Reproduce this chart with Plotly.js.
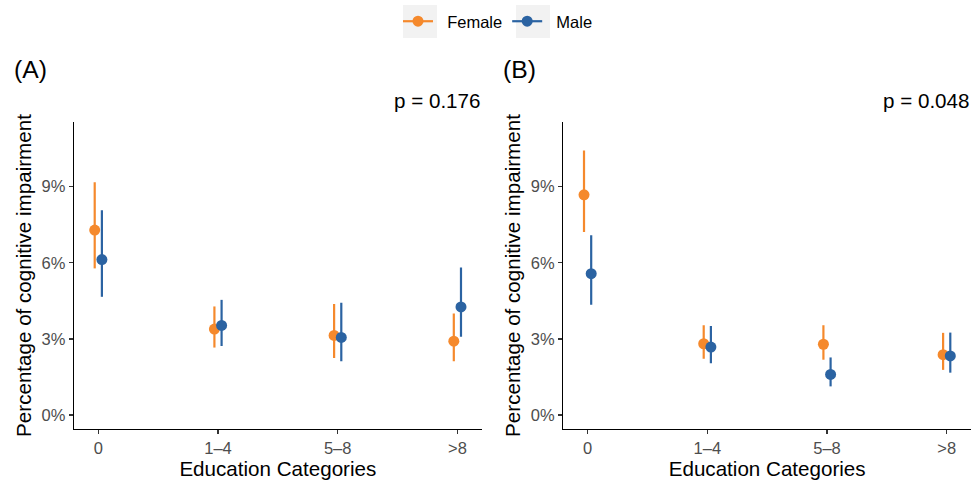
<!DOCTYPE html>
<html>
<head>
<meta charset="utf-8">
<script src="https://cdn.plot.ly/plotly-3.0.1.min.js"></script>
<style>html,body{margin:0;padding:0;background:#fff;}#chart{width:973px;height:485px;}</style>
</head>
<body>
<div id="chart"></div>
<script>
// ---- data ----
var categories = ["0", "1\u20134", "5\u20138", ">8"];
// Panel A
var femaleA = [7.29, 3.39, 3.14, 2.91];
var femaleA_lo = [5.78, 2.66, 2.25, 2.12];
var femaleA_hi = [9.18, 4.28, 4.38, 4.00];
var maleA = [6.13, 3.53, 3.06, 4.26];
var maleA_lo = [4.66, 2.72, 2.12, 3.09];
var maleA_hi = [8.07, 4.54, 4.43, 5.82];
// Panel B
var femaleB = [8.68, 2.81, 2.79, 2.38];
var femaleB_lo = [7.21, 2.22, 2.18, 1.78];
var femaleB_hi = [10.43, 3.54, 3.54, 3.24];
var maleB = [5.57, 2.68, 1.60, 2.33];
var maleB_lo = [4.35, 2.04, 1.13, 1.67];
var maleB_hi = [7.09, 3.51, 2.27, 3.25];
var yTicks = [0, 3, 6, 9];
var yTickLabels = ["0%", "3%", "6%", "9%"];
var panelTags = ["(A)", "(B)"];
var pLabels = ["p = 0.176", "p = 0.048"];
var seriesNames = ["Female", "Male"];

// ---- style ----
var COL_F = "#F5892C", COL_M = "#2B63A2";
var FONT = "Liberation Sans, Arial, Helvetica, sans-serif";
var W = 973, H = 485, ML = 74, MR = 2, MT = 122, MB = 56;
var PW = W - ML - MR, PH = H - MT - MB;
function px2x(p) { return (p - ML) / PW; }
function px2y(p) { return (H - MB - p) / PH; }
var DODGE = 0.03;

function pos(off) { return categories.map(function (c, i) { return i + 1 + off; }); }
function diff(a, b) { return a.map(function (v, i) { return v - b[i]; }); }

function mk(vals, lo, hi, color, off, xa, ya) {
  return {
    type: "scatter", mode: "markers",
    x: pos(off), y: vals, xaxis: xa, yaxis: ya,
    marker: { color: color, size: 11, line: { width: 0 } },
    error_y: { type: "data", symmetric: false, array: diff(hi, vals), arrayminus: diff(vals, lo),
               color: color, thickness: 2.2, width: 0 },
    showlegend: false, hoverinfo: "x+y"
  };
}

var traces = [
  mk(femaleA, femaleA_lo, femaleA_hi, COL_F, -DODGE, "x", "y"),
  mk(maleA, maleA_lo, maleA_hi, COL_M, DODGE, "x", "y"),
  mk(femaleB, femaleB_lo, femaleB_hi, COL_F, -DODGE, "x2", "y2"),
  mk(maleB, maleB_lo, maleB_hi, COL_M, DODGE, "x2", "y2"),
  { type: "scatter", mode: "lines+markers", x: [null], y: [null], name: "\u00A0\u00A0" + seriesNames[0],
    line: { color: COL_F, width: 2.2 }, marker: { color: COL_F, size: 11 }, showlegend: true },
  { type: "scatter", mode: "lines+markers", x: [null], y: [null], name: "\u00A0\u00A0" + seriesNames[1],
    line: { color: COL_M, width: 2.2 }, marker: { color: COL_M, size: 11 }, showlegend: true }
];

function xAxis(domain, anchor) {
  return {
    domain: domain, anchor: anchor, range: [0.797, 4.203], tickmode: "array",
    tickvals: pos(0), ticktext: categories, showgrid: false, zeroline: false,
    showline: true, linecolor: "#000", linewidth: 1.3, ticks: "outside", ticklen: 4,
    tickwidth: 1.2, tickcolor: "#333", tickfont: { family: FONT, size: 16.5, color: "#4D4D4D" },
    title: { text: "Education Categories", font: { family: FONT, size: 20.6, color: "#000" }, standoff: 3 },
    automargin: false, fixedrange: true
  };
}
function yAxis(anchor) {
  return {
    anchor: anchor, domain: [0, 1], range: [-0.55, 11.55], tickmode: "array", tickvals: yTicks,
    ticktext: yTickLabels, showgrid: false, zeroline: false, showline: true, linecolor: "#000",
    linewidth: 1.3, ticks: "outside", ticklen: 4, tickwidth: 1.2, tickcolor: "#333",
    tickfont: { family: FONT, size: 16.5, color: "#4D4D4D" },
    title: { text: "Percentage of cognitive impairment", font: { family: FONT, size: 20.6, color: "#000" }, standoff: 4 },
    automargin: false, fixedrange: true
  };
}

var xL = [0, px2x(481.7)], xR = [px2x(563.3), 1];

var annotations = [
  { xref: "paper", yref: "paper", x: px2x(12), y: px2y(70), xanchor: "left", yanchor: "middle",
    text: panelTags[0], showarrow: false, font: { family: FONT, size: 24.7, color: "#000" } },
  { xref: "paper", yref: "paper", x: px2x(501), y: px2y(70), xanchor: "left", yanchor: "middle",
    text: panelTags[1], showarrow: false, font: { family: FONT, size: 24.7, color: "#000" } },
  { xref: "paper", yref: "paper", x: xL[1], y: px2y(101), xanchor: "right", yanchor: "middle",
    text: pLabels[0], showarrow: false, font: { family: FONT, size: 20.6, color: "#000" } },
  { xref: "paper", yref: "paper", x: xR[1], y: px2y(101), xanchor: "right", yanchor: "middle",
    text: pLabels[1], showarrow: false, font: { family: FONT, size: 20.6, color: "#000" } }
];

var shapes = [
  { type: "rect", xref: "paper", yref: "paper", x0: px2x(403), x1: px2x(437), y0: px2y(38), y1: px2y(5),
    fillcolor: "#F2F2F2", line: { width: 0 }, layer: "below" },
  { type: "rect", xref: "paper", yref: "paper", x0: px2x(516), x1: px2x(550), y0: px2y(38), y1: px2y(5),
    fillcolor: "#F2F2F2", line: { width: 0 }, layer: "below" }
];

var layout = {
  width: W, height: H, margin: { l: ML, r: MR, t: MT, b: MB, pad: 0 },
  paper_bgcolor: "#fff", plot_bgcolor: "rgba(0,0,0,0)", font: { family: FONT },
  showlegend: true,
  legend: { orientation: "h", x: px2x(398), xanchor: "left", y: px2y(21.5), yanchor: "middle",
            font: { family: FONT, size: 16.5, color: "#000" }, bgcolor: "rgba(0,0,0,0)",
            borderwidth: 0, itemclick: false, itemdoubleclick: false, tracegroupgap: 0 },
  xaxis: xAxis(xL, "y"), yaxis: yAxis("x"),
  xaxis2: xAxis(xR, "y2"), yaxis2: yAxis("x2"),
  annotations: annotations, shapes: shapes
};

Plotly.newPlot("chart", traces, layout, { staticPlot: true, displayModeBar: false });
</script>
</body>
</html>
